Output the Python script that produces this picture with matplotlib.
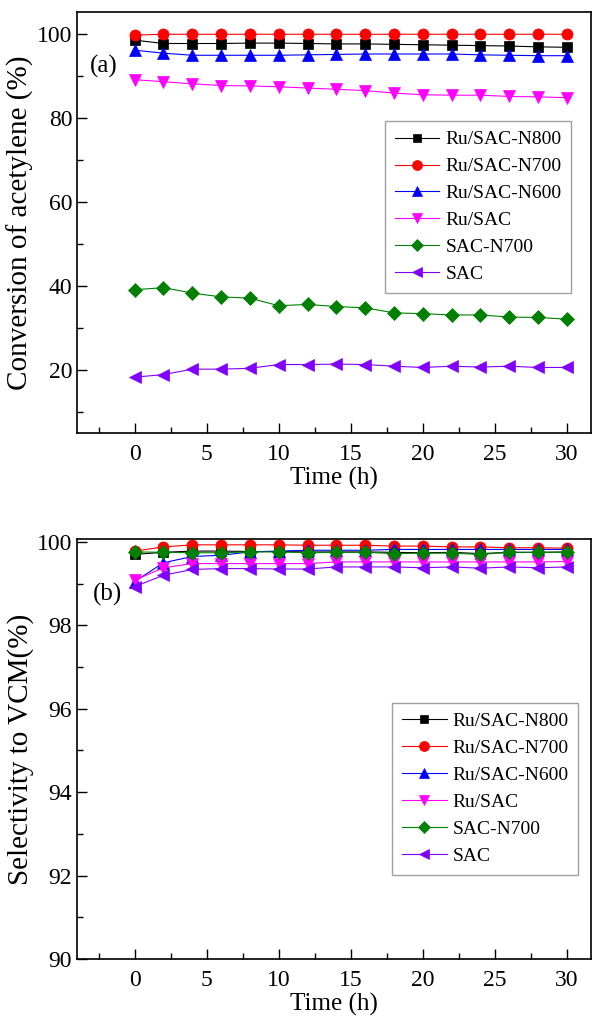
import matplotlib
matplotlib.use("Agg")
import matplotlib.pyplot as plt
from matplotlib.ticker import MultipleLocator

plt.rcParams['font.family'] = ['Liberation Serif', 'DejaVu Serif']
plt.rcParams['mathtext.fontset'] = 'stix'

time_h = [0, 2, 4, 6, 8, 10, 12, 14, 16, 18, 20, 22, 24, 26, 28, 30]
labels = ["Ru/SAC-N800", "Ru/SAC-N700", "Ru/SAC-N600", "Ru/SAC", "SAC-N700", "SAC"]

# Panel (a): conversion of acetylene (%)
conv_n800 = [98.5, 97.7, 97.7, 97.7, 97.8, 97.8, 97.7, 97.6, 97.6, 97.5, 97.4, 97.3, 97.2, 97.1, 96.9, 96.8]
conv_n700 = [99.7, 99.9, 99.9, 99.9, 99.9, 99.9, 99.9, 99.9, 99.9, 99.9, 99.9, 99.9, 99.9, 99.9, 99.9, 99.9]
conv_n600 = [96.1, 95.4, 94.9, 94.9, 94.9, 94.9, 95.0, 95.1, 95.2, 95.2, 95.2, 95.2, 95.0, 94.9, 94.8, 94.8]
conv_ru = [89.1, 88.6, 88.1, 87.7, 87.6, 87.4, 87.1, 86.8, 86.5, 85.9, 85.5, 85.4, 85.4, 85.1, 85.0, 84.8]
conv_sacn700 = [39.1, 39.6, 38.3, 37.4, 37.1, 35.3, 35.6, 35.1, 34.8, 33.6, 33.4, 33.1, 33.1, 32.6, 32.5, 32.1]
conv_sac = [18.3, 18.9, 20.2, 20.2, 20.4, 21.3, 21.3, 21.4, 21.3, 20.9, 20.6, 20.9, 20.7, 20.9, 20.6, 20.6]

# Panel (b): selectivity to VCM (%)
sel_n800 = [99.70, 99.75, 99.78, 99.78, 99.77, 99.77, 99.76, 99.76, 99.76, 99.75, 99.74, 99.75, 99.72, 99.75, 99.75, 99.76]
sel_n700 = [99.78, 99.88, 99.93, 99.93, 99.93, 99.93, 99.92, 99.92, 99.92, 99.90, 99.90, 99.88, 99.88, 99.86, 99.86, 99.85]
sel_n600 = [99.05, 99.50, 99.65, 99.68, 99.76, 99.78, 99.80, 99.80, 99.80, 99.82, 99.82, 99.82, 99.82, 99.82, 99.82, 99.82]
sel_ru = [99.08, 99.38, 99.48, 99.48, 99.48, 99.48, 99.48, 99.52, 99.52, 99.52, 99.52, 99.52, 99.52, 99.52, 99.52, 99.53]
sel_sacn700 = [99.76, 99.75, 99.74, 99.74, 99.76, 99.76, 99.74, 99.75, 99.75, 99.72, 99.73, 99.73, 99.70, 99.75, 99.75, 99.75]
sel_sac = [98.93, 99.20, 99.34, 99.36, 99.36, 99.35, 99.35, 99.40, 99.40, 99.40, 99.38, 99.40, 99.37, 99.40, 99.38, 99.40]

colors = ['black', 'red', 'blue', '#ff00ff', '#008000', '#8000ff']
markers = ['s', 'o', '^', 'v', 'D', '<']
msizes = [7, 8, 8, 8, 7, 8]

fig = plt.figure(figsize=(5.93, 10.16), dpi=100)
ax1 = fig.add_axes([0.130, 0.5738, 0.867, 0.4144])
ax2 = fig.add_axes([0.130, 0.0561, 0.867, 0.4134])

conv = [conv_n800, conv_n700, conv_n600, conv_ru, conv_sacn700, conv_sac]
sel = [sel_n800, sel_n700, sel_n600, sel_ru, sel_sacn700, sel_sac]

for ax, series, ylab, tag, tagpos in [
        (ax1, conv, "Conversion of acetylene (%)", "(a)", (0.025, 0.87)),
        (ax2, sel, "Selectivity to VCM(%)", "(b)", (0.03, 0.867))]:
    for ys, c, m, ms, lab in zip(series, colors, markers, msizes, labels):
        ax.plot(time_h, ys, color=c, marker=m, markersize=ms, linewidth=0.8,
                markeredgewidth=0.5, markeredgecolor=c, label=lab)
    ax.set_xlim(-4.0, 31.7)
    ax.xaxis.set_major_locator(MultipleLocator(5))
    ax.xaxis.set_minor_locator(MultipleLocator(2.5))
    ax.tick_params(which='both', direction='in', top=False, right=False,
                   labelsize=17, width=1.0)
    ax.tick_params(which='major', length=7)
    ax.tick_params(which='minor', length=4)
    ax.tick_params(axis='x', which='major', pad=8)
    for sp in ax.spines.values():
        sp.set_linewidth(1.2)
    ax.set_xlabel("Time (h)", fontsize=18, labelpad=1)
    ax.set_ylabel(ylab, fontsize=21, labelpad=2)
    leg = ax.legend(loc='upper right', fontsize=14, frameon=True, fancybox=False,
                    edgecolor='#888888', handlelength=2.3, handletextpad=0.3,
                    labelspacing=0.48, borderpad=0.5, borderaxespad=0,
                    markerscale=0.9)
    leg.get_frame().set_linewidth(1.0)
    ax.text(tagpos[0], tagpos[1], tag, transform=ax.transAxes, fontsize=18,
            va='center', ha='left')

ax1.set_ylim(5, 105.2)
ax1.yaxis.set_major_locator(MultipleLocator(20))
ax1.yaxis.set_minor_locator(MultipleLocator(10))
ax1.legend_.set_bbox_to_anchor((0.961, 0.741), transform=ax1.transAxes)

ax2.set_ylim(90, 100.07)
ax2.yaxis.set_major_locator(MultipleLocator(2))
ax2.yaxis.set_minor_locator(MultipleLocator(1))
ax2.legend_.set_bbox_to_anchor((0.975, 0.610), transform=ax2.transAxes)

fig.savefig("out.png", dpi=100)
